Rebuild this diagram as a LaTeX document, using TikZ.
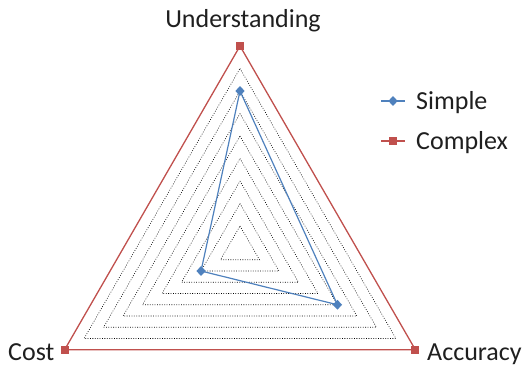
\documentclass[tikz,border=0pt]{standalone}
\usepackage{fontspec}
\setmainfont{Carlito}
\usetikzlibrary{calc,shapes.geometric}
\definecolor{serA}{HTML}{4F81BD}
\definecolor{serB}{HTML}{C0504D}
\begin{document}
\begin{tikzpicture}[x=1pt,y=-1pt,
  gridline/.style={black, line width=0.6pt, dash pattern=on 0.8pt off 1.6pt},
  lineA/.style={serA, line width=1.2pt, line join=round},
  lineB/.style={serB, line width=1.3pt, line join=miter},
  markA/.style={shape=diamond, fill=serA, draw=none, inner sep=0pt, minimum width=9.5pt, minimum height=10pt},
  markB/.style={shape=rectangle, fill=serB, draw=none, inner sep=0pt, minimum size=8pt},
  lbl/.style={font=\fontsize{26pt}{30pt}\selectfont, text=black!88, inner sep=0pt}]
\useasboundingbox (0,0) rectangle (527,366);

% centre of the chart and one grid step along each axis
\coordinate (O) at (240,248.5);
\coordinate (uU) at (0,-22.5);
\coordinate (uA) at (19.486,11.25);
\coordinate (uC) at (-19.486,11.25);

% dotted grid triangles, levels 1 to 8
\foreach \k in {1,...,8}
  \draw[gridline] ($(O)+\k*(uU)$) -- ($(O)+\k*(uA)$) -- ($(O)+\k*(uC)$) -- cycle;

% series values (Understanding, Accuracy, Cost)
\coordinate (b1) at ($(O)+9*(uU)$);
\coordinate (b2) at ($(O)+9*(uA)$);
\coordinate (b3) at ($(O)+9*(uC)$);
\coordinate (a1) at ($(O)+7*(uU)$);
\coordinate (a2) at ($(O)+5*(uA)$);
\coordinate (a3) at ($(O)+2*(uC)$);

\draw[lineB] (b1) -- (b2) -- (b3) -- cycle;
\draw[lineA] (a1) -- (a2) -- (a3) -- cycle;

\foreach \p in {b1,b2,b3} \node[markB] (m\p) at (\p) {};
\foreach \p in {a1,a2,a3} \node[markA] (m\p) at (\p) {};

% axis labels
\node[lbl, anchor=base] (labU) at (243,28) {Understanding};
\node[lbl, anchor=base west] (labC) at (8,360) {Cost};
\node[lbl, anchor=base west] (labA) at (427,360) {Accuracy};

% legend
\coordinate (lgA1) at (381,101);
\coordinate (lgA2) at (405,101);
\coordinate (lgB1) at (381,141);
\coordinate (lgB2) at (405,141);
\draw[lineA] (lgA1) -- (lgA2);
\draw[lineB] (lgB1) -- (lgB2);
\node[markA] (lgmA) at ($(lgA1)!0.5!(lgA2)$) {};
\node[markB] (lgmB) at ($(lgB1)!0.5!(lgB2)$) {};
\node[lbl, anchor=base west] (lgtA) at (416,110) {Simple};
\node[lbl, anchor=base west] (lgtB) at (416,150) {Complex};
\end{tikzpicture}
\end{document}
